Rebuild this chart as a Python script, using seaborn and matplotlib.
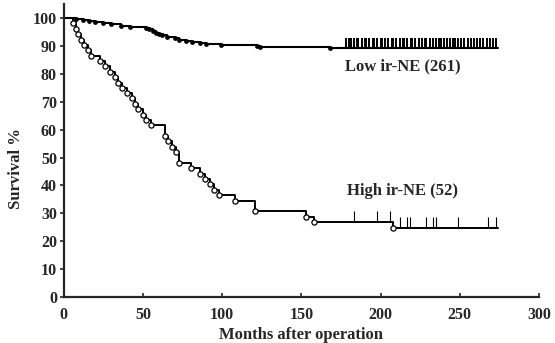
import numpy as np
import pandas as pd
import matplotlib
matplotlib.use("Agg")
import matplotlib.pyplot as plt
import seaborn as sns

# survival steps (months, survival %)
high_times = [0, 6, 7.5, 9, 11, 13, 15, 17, 23, 26, 29, 32, 34, 37, 40, 43, 45, 47, 50, 52,
              55, 64, 66, 68, 71, 73, 80, 86, 89, 92, 95, 98, 108, 121, 153, 158, 208, 274]
high_surv = [100, 98.1, 96.2, 94.2, 92.3, 90.4, 88.5, 86.5, 84.6, 82.7, 80.8, 78.8, 76.9, 75.0,
             73.1, 71.2, 69.2, 67.3, 65.4, 63.5, 61.5, 57.7, 55.8, 53.8, 51.9, 48.1, 46.2, 44.2,
             42.3, 40.4, 38.5, 36.5, 34.6, 30.8, 28.8, 26.9, 24.7, 24.7]
high_cens_t = [183.5, 197.5, 206, 212.6, 217, 218.5, 228.5, 233, 235, 248.6, 267.7, 272.8]
high_cens_s = [26.9, 26.9, 26.9, 24.7, 24.7, 24.7, 24.7, 24.7, 24.7, 24.7, 24.7, 24.7]

low_times = [0, 8, 12, 16, 20, 25, 30, 36, 42, 52, 54, 56, 58, 60, 62, 65, 70, 73, 77, 81,
             86, 90, 99, 122, 124, 168, 274]
low_surv = [100, 99.6, 99.2, 98.9, 98.5, 98.1, 97.7, 97.3, 96.9, 96.5, 96.0, 95.4, 94.6, 94.2,
            93.8, 93.1, 92.7, 92.3, 91.9, 91.5, 91.2, 90.8, 90.4, 90.0, 89.6, 89.2, 89.2]
low_cens_t = [178, 180, 181.5, 183, 185, 186, 188, 190, 191, 193, 195, 196, 198, 200, 201, 203,
              205, 207, 208, 210, 212, 214, 215, 217, 219, 220, 222, 224, 226, 228, 229, 231,
              233, 235, 237, 238, 240, 242, 244, 246, 247, 249, 251, 253, 255, 257, 259, 261,
              263, 265, 267, 269, 271, 273]

x_ticks = [0, 50, 100, 150, 200, 250, 300]
y_ticks = [0, 10, 20, 30, 40, 50, 60, 70, 80, 90, 100]

sns.set_theme(style="ticks")
plt.rcParams['font.family'] = ['Liberation Serif', 'DejaVu Serif']
plt.rcParams['font.weight'] = 'bold'

fig = plt.figure(figsize=(5.55, 3.43), dpi=100)
ax = fig.add_axes([0.115, 0.134, 0.856, 0.854])

high = pd.DataFrame({'t': high_times, 's': high_surv})
low = pd.DataFrame({'t': low_times, 's': low_surv})

sns.lineplot(data=high, x='t', y='s', drawstyle='steps-post', color='black', lw=1.4, ax=ax)
sns.lineplot(data=low, x='t', y='s', drawstyle='steps-post', color='black', lw=1.5, ax=ax)

# event markers (skip start and end points)
sns.scatterplot(data=high.iloc[1:-1], x='t', y='s', marker='o', s=14, facecolor='white',
                edgecolor='black', linewidth=0.9, ax=ax, zorder=3)
sns.scatterplot(data=low.iloc[1:-1], x='t', y='s', marker='o', s=12, color='black',
                linewidth=0, ax=ax, zorder=3)

# censored marks
sns.scatterplot(x=high_cens_t, y=high_cens_s, marker=2, s=60, color='black', linewidth=0.8, ax=ax)
sns.scatterplot(x=low_cens_t, y=[89.2] * len(low_cens_t), marker=2, s=50, color='black',
                linewidth=1.4, ax=ax)

ax.text(214, 82.5, 'Low ir-NE (261)', ha='center', va='center', fontsize=12, fontweight='bold')
ax.text(214, 38, 'High ir-NE (52)', ha='center', va='center', fontsize=12, fontweight='bold')

ax.set_xlim(0, 300)
ax.set_ylim(0, 105)
ax.set_xticks(x_ticks)
ax.set_yticks(y_ticks)
ax.tick_params(axis='x', direction='in', length=3, width=1.2, labelsize=11.5, pad=7)
ax.tick_params(axis='y', direction='out', length=3, width=1.2, labelsize=11.5, pad=2)
for lab in ax.get_xticklabels() + ax.get_yticklabels():
    lab.set_fontweight('bold')
ax.set_xlabel('Months after operation', fontsize=12, fontweight='bold', labelpad=3)
ax.set_ylabel('Survival %', fontsize=12, fontweight='bold')
ax.yaxis.set_label_coords(-0.084, 0.44)
sns.despine(ax=ax)
ax.spines['left'].set_linewidth(1.6)
ax.spines['bottom'].set_linewidth(1.6)

fig.savefig('out.png', dpi=100)
